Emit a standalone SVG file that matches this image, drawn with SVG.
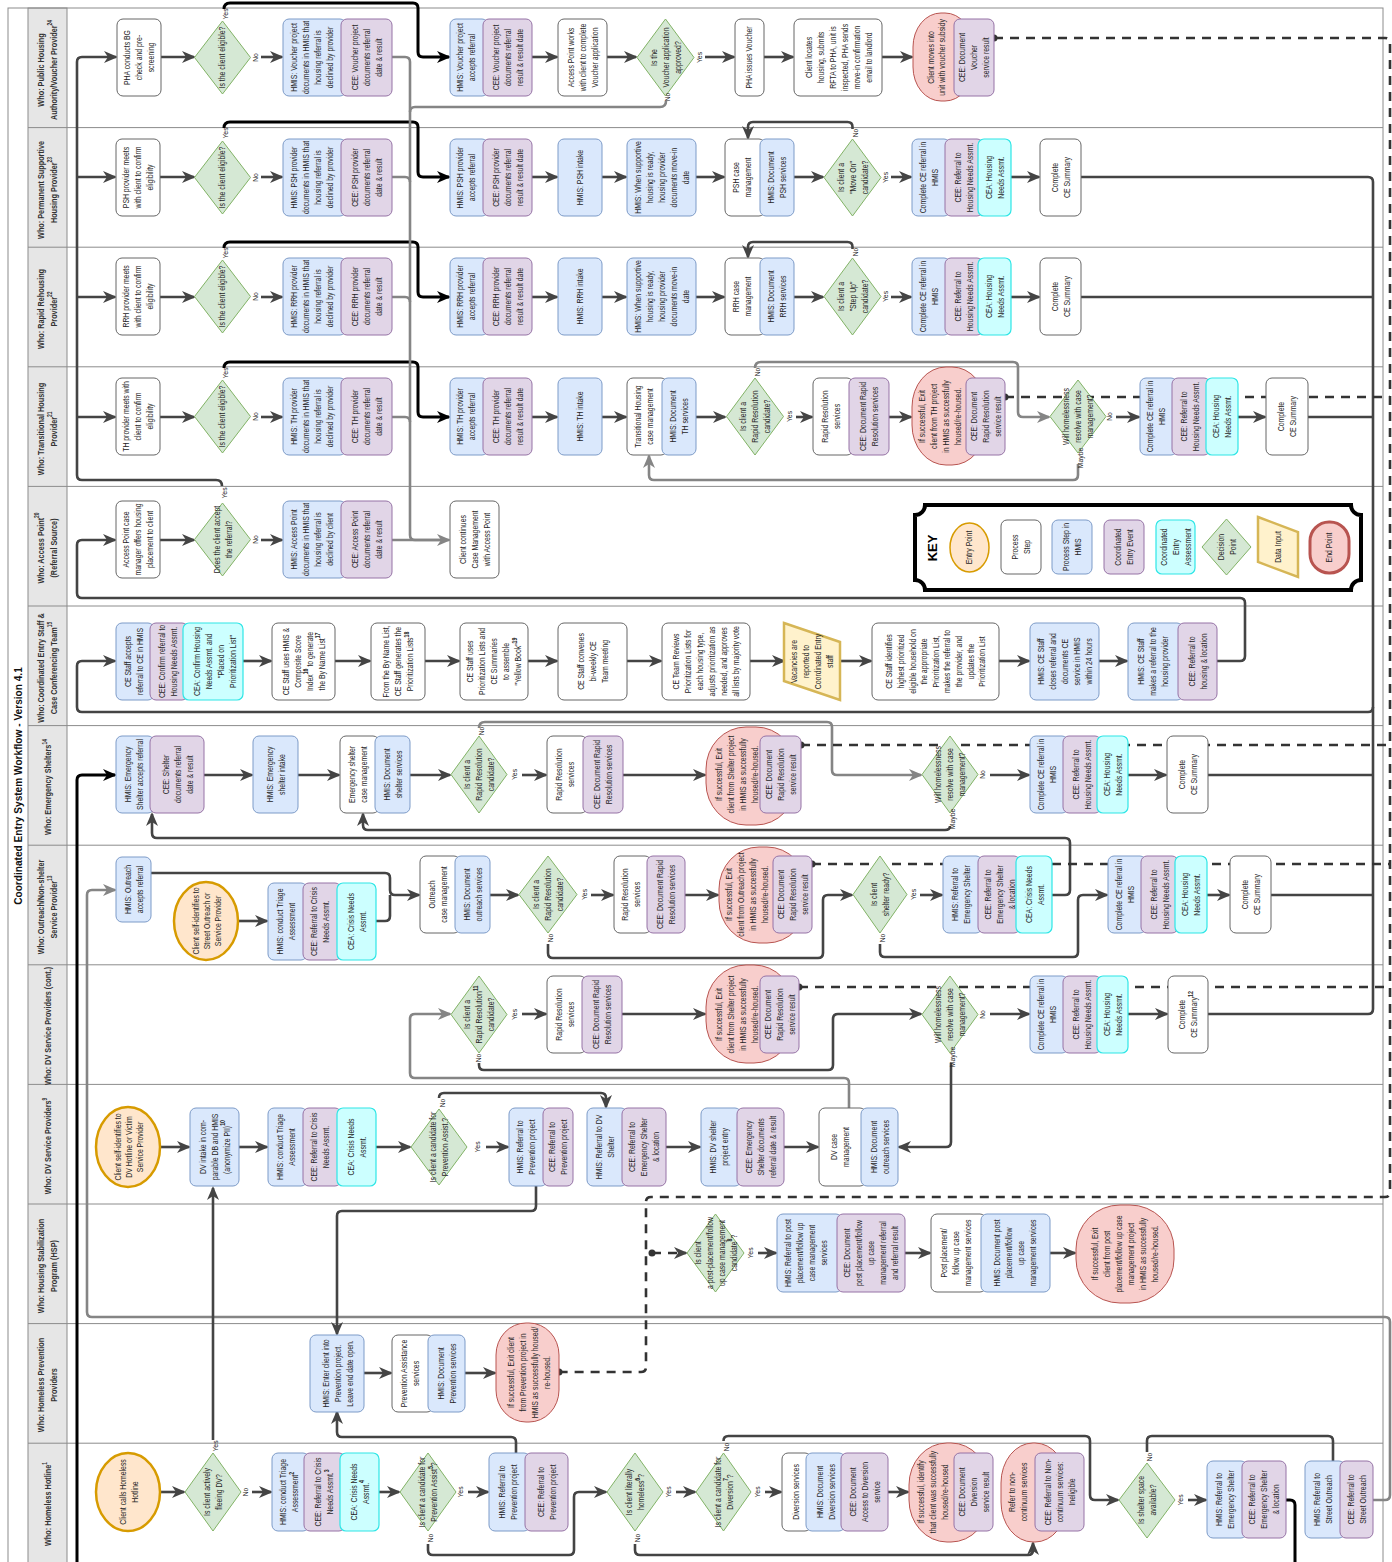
<svg xmlns="http://www.w3.org/2000/svg" width="1392" height="1562" viewBox="0 0 1392 1562">
<defs>
<style>
.hdr{fill:#e6e6e6;stroke:#8c8c8c;stroke-width:1}
.ln{stroke:#8c8c8c;stroke-width:1}
.w{fill:#fff;stroke:#666;stroke-width:1}
.b{fill:#dae8fc;stroke:#7d9bc8;stroke-width:1}
.p{fill:#e1d5e7;stroke:#9673a6;stroke-width:1}
.c{fill:#ccffff;stroke:#2ee6e6;stroke-width:1.2}
.d{fill:#d5e8d4;stroke:#82b366;stroke-width:1}
.e{fill:#ffe6cc;stroke:#d79b00;stroke-width:2.5}
.r{fill:#f8cecc;stroke:#b85450;stroke-width:1}
.y{fill:#fff2cc;stroke:#d6b656;stroke-width:2.5}
text{font-family:"Liberation Sans",Arial,sans-serif;fill:#262626}
.t{font-size:8.6px;text-anchor:middle;dominant-baseline:central}
.l{font-size:8px;text-anchor:middle;dominant-baseline:central}
.h{font-size:9.6px;font-weight:bold;text-anchor:middle;dominant-baseline:central;fill:#333}
.ttl{font-size:11.5px;font-weight:bold;text-anchor:middle;dominant-baseline:central;fill:#111}
.s{font-size:6.5px;font-weight:bold}
.k{fill:none;stroke:#444;stroke-width:2.6}
.g{fill:none;stroke:#858585;stroke-width:2.6}
.bk{fill:none;stroke:#000;stroke-width:3}
.ds{fill:none;stroke:#333;stroke-width:2.6;stroke-dasharray:9 7}
</style>
<marker id="ak" viewBox="0 0 14 12" refX="12" refY="6" markerWidth="14" markerHeight="12" markerUnits="userSpaceOnUse" orient="auto"><path d="M0,0 L14,6 L0,12 L4,6 Z" fill="#444"/></marker>
<marker id="ag" viewBox="0 0 14 12" refX="12" refY="6" markerWidth="14" markerHeight="12" markerUnits="userSpaceOnUse" orient="auto"><path d="M0,0 L14,6 L0,12 L4,6 Z" fill="#858585"/></marker>
<marker id="ab" viewBox="0 0 14 12" refX="12" refY="6" markerWidth="14" markerHeight="12" markerUnits="userSpaceOnUse" orient="auto"><path d="M0,0 L14,6 L0,12 L4,6 Z" fill="#000"/></marker>
<marker id="dot" viewBox="0 0 8 8" refX="4" refY="4" markerWidth="8" markerHeight="8" markerUnits="userSpaceOnUse"><circle cx="4" cy="4" r="3.5" fill="#333"/></marker>
</defs>
<rect width="1392" height="1562" fill="#fff"/>
<g id="lanes">
<rect class="hdr" x="28" y="8" width="39" height="1570"/>
<rect x="8" y="8" width="1375" height="1570" fill="none" stroke="#8c8c8c"/>
<path class="ln" d="M28,127.6H1383M28,247.2H1383M28,366.8H1383M28,486.4H1383M28,606H1383M28,725.6H1383M28,845.2H1383M28,964.8H1383M28,1084.4H1383M28,1204H1383M28,1323.6H1383M28,1443.2H1383"/>
<text class="ttl" transform="translate(18 786) rotate(-90) scale(.88 1)">Coordinated Entry System Workflow - Version 4.1</text>
<text class="h" transform="translate(47 70) rotate(-90) scale(.76 1)"><tspan x="0" dy="-6.5">Who: Public Housing</tspan><tspan x="0" dy="13">Authority/Voucher Provider<tspan class="s" baseline-shift="super">24</tspan></tspan></text>
<text class="h" transform="translate(47 190) rotate(-90) scale(.76 1)"><tspan x="0" dy="-6.5">Who: Permanent Supportive</tspan><tspan x="0" dy="13">Housing Provider<tspan class="s" baseline-shift="super">23</tspan></tspan></text>
<text class="h" transform="translate(47 309) rotate(-90) scale(.76 1)"><tspan x="0" dy="-6.5">Who: Rapid Rehousing</tspan><tspan x="0" dy="13">Provider<tspan class="s" baseline-shift="super">22</tspan></tspan></text>
<text class="h" transform="translate(47 429) rotate(-90) scale(.76 1)"><tspan x="0" dy="-6.5">Who: Transitional Housing</tspan><tspan x="0" dy="13">Provider<tspan class="s" baseline-shift="super">21</tspan></tspan></text>
<text class="h" transform="translate(47 548) rotate(-90) scale(.76 1)"><tspan x="0" dy="-6.5">Who: Access Point<tspan class="s" baseline-shift="super">20</tspan></tspan><tspan x="0" dy="13">(Referral Source)</tspan></text>
<text class="h" transform="translate(47 668) rotate(-90) scale(.76 1)"><tspan x="0" dy="-6.5">Who: Coordinated Entry Staff &amp;</tspan><tspan x="0" dy="13">Case Conferencing Team<tspan class="s" baseline-shift="super">15</tspan></tspan></text>
<text class="h" transform="translate(48 787) rotate(-90) scale(.76 1)">Who: Emergency Shelters<tspan class="s" baseline-shift="super">14</tspan></text>
<text class="h" transform="translate(47 907) rotate(-90) scale(.76 1)"><tspan x="0" dy="-6.5">Who: Outreach/Non-shelter</tspan><tspan x="0" dy="13">Service Provider<tspan class="s" baseline-shift="super">13</tspan></tspan></text>
<text class="h" transform="translate(48 1026) rotate(-90) scale(.76 1)">Who: DV Service Providers (cont.)</text>
<text class="h" transform="translate(48 1146) rotate(-90) scale(.76 1)">Who: DV Service Providers<tspan class="s" baseline-shift="super">9</tspan></text>
<text class="h" transform="translate(47 1266) rotate(-90) scale(.76 1)"><tspan x="0" dy="-6.5">Who: Housing Stabilization</tspan><tspan x="0" dy="13">Program (HSP)</tspan></text>
<text class="h" transform="translate(47 1385) rotate(-90) scale(.76 1)"><tspan x="0" dy="-6.5">Who: Homeless Prevention</tspan><tspan x="0" dy="13">Providers</tspan></text>
<text class="h" transform="translate(48 1504) rotate(-90) scale(.76 1)">Who: Homeless Hotline<tspan class="s" baseline-shift="super">1</tspan></text>
</g>
<g id="connectors">
<path class="k" marker-end="url(#ak)" d="M222,486 Q222,480 216,480 H82 Q77,480 77,475 V62 Q77,57 82,57 H116"/>
<path class="k" marker-end="url(#ak)" d="M77,177 H115"/>
<path class="k" marker-end="url(#ak)" d="M77,297 H115"/>
<path class="k" marker-end="url(#ak)" d="M77,417 H115"/>
<path class="k" marker-end="url(#ak)" d="M1217,661 H1240 Q1245,661 1245,656 V603 Q1245,598 1240,598 H82 Q77,598 77,593 V545 Q77,540 82,540 H115"/>
<path class="k" d="M1373,182 V1009"/>
<path class="k" marker-end="url(#ak)" d="M1373,707 Q1373,712 1368,712 H82 Q77,712 77,707 V666 Q77,661 82,661 H115"/>
<path class="bk" marker-end="url(#ab)" d="M1286,1500 H1290 Q1295,1500 1295,1505 V1580 H77 V780 Q77,775 82,775 H115"/>
<path class="g" marker-end="url(#ag)" d="M1373,1500 H1385 Q1390,1500 1390,1495 V1322 Q1390,1317 1385,1317 H92 Q87,1317 87,1312 V895 Q87,890 92,890 H115"/>
<path class="bk" marker-end="url(#ab)" d="M224,9 Q224,3 230,3 H413 Q418,3 418,8 V52 Q418,57 423,57 H449"/>
<path class="bk" marker-end="url(#ab)" d="M224,128 Q224,122 230,122 H413 Q418,122 418,127 V172 Q418,177 423,177 H449"/>
<path class="bk" marker-end="url(#ab)" d="M224,248 Q224,242 230,242 H413 Q418,242 418,247 V292 Q418,297 423,297 H449"/>
<path class="bk" marker-end="url(#ab)" d="M224,368 Q224,362 230,362 H413 Q418,362 418,367 V412 Q418,417 423,417 H449"/>
<path class="g" marker-end="url(#ag)" d="M392,57 H405 Q410,57 410,62 V535 Q410,540 415,540 H449"/>
<path class="g" d="M392,177 H405 Q410,177 410,182"/>
<path class="g" d="M392,297 H405 Q410,297 410,302"/>
<path class="g" d="M392,417 H405 Q410,417 410,422"/>
<path class="g" d="M392,540 H440"/>
<path class="g" d="M666,101 Q666,107 660,107 H415 Q410,107 410,112"/>
<path class="k" marker-end="url(#ak)" d="M161,57 H194"/>
<path class="k" marker-end="url(#ak)" d="M261,57 H282"/>
<path class="k" marker-end="url(#ak)" d="M532,57 H557"/>
<path class="k" marker-end="url(#ak)" d="M607,57 H636"/>
<path class="k" marker-end="url(#ak)" d="M705,57 H734"/>
<path class="k" marker-end="url(#ak)" d="M764,57 H793"/>
<path class="k" marker-end="url(#ak)" d="M882,57 H912"/>
<path class="k" marker-end="url(#ak)" d="M160,177 H194"/>
<path class="k" marker-end="url(#ak)" d="M261,177 H282"/>
<path class="k" marker-end="url(#ak)" d="M532,177 H557"/>
<path class="k" marker-end="url(#ak)" d="M602,177 H626"/>
<path class="k" marker-end="url(#ak)" d="M696,177 H724"/>
<path class="k" marker-end="url(#ak)" d="M794,177 H823"/>
<path class="k" marker-end="url(#ak)" d="M891,177 H911"/>
<path class="k" marker-end="url(#ak)" d="M1011,177 H1039"/>
<path class="k" marker-end="url(#ak)" d="M852.5,129 V127 Q852.5,122 847.5,122 H753 Q748,122 748,127 V138"/>
<path class="k" d="M1081,177 H1368 Q1373,177 1373,182"/>
<path class="k" marker-end="url(#ak)" d="M160,297 H194"/>
<path class="k" marker-end="url(#ak)" d="M261,297 H282"/>
<path class="k" marker-end="url(#ak)" d="M532,297 H557"/>
<path class="k" marker-end="url(#ak)" d="M602,297 H626"/>
<path class="k" marker-end="url(#ak)" d="M696,297 H724"/>
<path class="k" marker-end="url(#ak)" d="M794,297 H823"/>
<path class="k" marker-end="url(#ak)" d="M891,297 H911"/>
<path class="k" marker-end="url(#ak)" d="M1011,297 H1039"/>
<path class="k" marker-end="url(#ak)" d="M852.5,249 V247 Q852.5,242 847.5,242 H753 Q748,242 748,247 V257"/>
<path class="k" d="M1081,297 H1373"/>
<path class="k" marker-end="url(#ak)" d="M160,417 H194"/>
<path class="k" marker-end="url(#ak)" d="M261,417 H282"/>
<path class="k" marker-end="url(#ak)" d="M532,417 H557"/>
<path class="k" marker-end="url(#ak)" d="M602,417 H626"/>
<path class="k" marker-end="url(#ak)" d="M696,417 H725"/>
<path class="k" marker-end="url(#ak)" d="M796,417 H812"/>
<path class="k" marker-end="url(#ak)" d="M889,417 H911"/>
<path class="k" marker-end="url(#ak)" d="M1116,417 H1139"/>
<path class="k" marker-end="url(#ak)" d="M1238,417 H1265"/>
<path class="k" d="M1308,417 H1373"/>
<path class="g" marker-end="url(#ag)" d="M755,368 Q755,362 761,362 H1013 Q1018,362 1018,367 V412 Q1018,417 1023,417 H1049"/>
<path class="g" marker-end="url(#ag)" d="M1078,464 V475 Q1078,480 1073,480 H654 Q649,480 649,475 V456"/>
<path class="k" marker-end="url(#ak)" d="M160,540 H194"/>
<path class="k" marker-end="url(#ak)" d="M261,540 H282"/>
<path class="k" marker-end="url(#ak)" d="M243,661 H271"/>
<path class="k" marker-end="url(#ak)" d="M335,661 H370"/>
<path class="k" marker-end="url(#ak)" d="M425,661 H459"/>
<path class="k" marker-end="url(#ak)" d="M528,661 H557"/>
<path class="k" marker-end="url(#ak)" d="M627,661 H661"/>
<path class="k" marker-end="url(#ak)" d="M750,661 H784"/>
<path class="k" marker-end="url(#ak)" d="M840,661 H871"/>
<path class="k" marker-end="url(#ak)" d="M999,661 H1029"/>
<path class="k" marker-end="url(#ak)" d="M1099,661 H1127"/>
<path class="k" marker-end="url(#ak)" d="M204,775 H252"/>
<path class="k" marker-end="url(#ak)" d="M298,775 H339"/>
<path class="k" marker-end="url(#ak)" d="M410,775 H450"/>
<path class="k" marker-end="url(#ak)" d="M522,775 H546"/>
<path class="k" marker-end="url(#ak)" d="M623,775 H705"/>
<path class="k" marker-end="url(#ak)" d="M990,775 H1029"/>
<path class="k" marker-end="url(#ak)" d="M1128,775 H1166"/>
<path class="k" d="M1208,775 H1373"/>
<path class="g" marker-end="url(#ag)" d="M479,728 Q479,722 485,722 H827 Q832,722 832,727 V770 Q832,775 837,775 H921"/>
<path class="k" marker-end="url(#ak)" d="M950,826 Q950,830 945,830 H368 Q363,830 363,825 V814"/>
<path class="k" marker-end="url(#ak)" d="M1052,895 H1065 Q1070,895 1070,890 V843 Q1070,838 1065,838 H157 Q152,838 152,833 V814"/>
<path class="k" marker-end="url(#ak)" d="M151,873 H385 Q390,873 390,878 V890 Q390,895 395,895 H419"/>
<path class="k" d="M376,921 H385 Q390,921 390,916 V895"/>
<path class="k" marker-end="url(#ak)" d="M238,921 H267"/>
<path class="k" marker-end="url(#ak)" d="M490,895 H518"/>
<path class="k" marker-end="url(#ak)" d="M591,895 H613"/>
<path class="k" marker-end="url(#ak)" d="M685,895 H718"/>
<path class="k" marker-end="url(#ak)" d="M920,895 H942"/>
<path class="k" marker-end="url(#ak)" d="M1207,895 H1229"/>
<path class="k" d="M1271,895 H1373"/>
<path class="k" marker-end="url(#ak)" d="M548,944 V953 Q548,958 553,958 H818 Q823,958 823,953 V900 Q823,895 828,895 H852"/>
<path class="k" marker-end="url(#ak)" d="M880,944 V952 Q880,957 885,957 H1073 Q1078,957 1078,952 V900 Q1078,895 1083,895 H1107"/>
<path class="k" marker-end="url(#ak)" d="M522,1014 H546"/>
<path class="k" marker-end="url(#ak)" d="M622,1014 H705"/>
<path class="k" marker-end="url(#ak)" d="M990,1014 H1029"/>
<path class="k" marker-end="url(#ak)" d="M1128,1014 H1167"/>
<path class="k" d="M1208,1014 H1368 Q1373,1014 1373,1009"/>
<path class="k" marker-end="url(#ak)" d="M479,1063 V1065 Q479,1070 484,1070 H828 Q833,1070 833,1065 V1019 Q833,1014 838,1014 H921"/>
<path class="g" marker-end="url(#ag)" d="M849,1108 V1083 Q849,1078 844,1078 H415 Q410,1078 410,1073 V1019 Q410,1014 415,1014 H450"/>
<path class="k" marker-end="url(#ak)" d="M951,1063 V1142 Q951,1147 946,1147 H899"/>
<path class="k" marker-end="url(#ak)" d="M160,1147 H189"/>
<path class="k" marker-end="url(#ak)" d="M239,1147 H267"/>
<path class="k" marker-end="url(#ak)" d="M376,1147 H410"/>
<path class="k" marker-end="url(#ak)" d="M486,1147 H508"/>
<path class="k" marker-end="url(#ak)" d="M666,1147 H700"/>
<path class="k" marker-end="url(#ak)" d="M784,1147 H818"/>
<path class="k" marker-end="url(#ak)" d="M439,1098 Q439,1093 444,1093 H601 Q606,1093 606,1098 V1107"/>
<path class="k" marker-end="url(#ak)" d="M536,1186 V1206 Q536,1211 531,1211 H342 Q337,1211 337,1216 V1334"/>
<path class="k" marker-end="url(#ak)" d="M758,1253 H776"/>
<path class="k" marker-end="url(#ak)" d="M905,1253 H930"/>
<path class="k" marker-end="url(#ak)" d="M1050,1253 H1075"/>
<path class="k" marker-end="url(#ak)" d="M364,1373 H391"/>
<path class="k" marker-end="url(#ak)" d="M465,1373 H495"/>
<path class="k" marker-end="url(#ak)" d="M516,1453 V1442 Q516,1437 511,1437 H342 Q337,1437 337,1432 V1412"/>
<path class="k" marker-end="url(#ak)" d="M160,1492 H184"/>
<path class="k" marker-end="url(#ak)" d="M252,1492 H271"/>
<path class="k" marker-end="url(#ak)" d="M379,1492 H399"/>
<path class="k" marker-end="url(#ak)" d="M468,1492 H488"/>
<path class="k" marker-end="url(#ak)" d="M676,1492 H695"/>
<path class="k" marker-end="url(#ak)" d="M765,1492 H781"/>
<path class="k" marker-end="url(#ak)" d="M888,1492 H908"/>
<path class="k" marker-end="url(#ak)" d="M213,1440 V1188"/>
<path class="k" marker-end="url(#ak)" d="M428,1544 V1550 Q428,1555 433,1555 H569 Q574,1555 574,1550 V1497 Q574,1492 579,1492 H606"/>
<path class="k" marker-end="url(#ak)" d="M635,1544 V1550 Q635,1555 640,1555 H1028 Q1033,1555 1033,1550 V1543"/>
<path class="k" marker-end="url(#ak)" d="M723.5,1441 Q723.5,1436 728.5,1436 H1085 Q1090,1436 1090,1441 V1495 Q1090,1500 1095,1500 H1118"/>
<path class="k" marker-end="url(#ak)" d="M1188,1500 H1206"/>
<path class="k" d="M1147,1452 V1441 Q1147,1436 1152,1436 H1328 Q1333,1436 1333,1441 V1461"/>
<path class="ds" marker-start="url(#dot)" d="M994,38 H1385 Q1390,38 1390,43 V1192 Q1390,1197 1385,1197 H651 Q646,1197 646,1202 V1367 Q646,1372 641,1372 H559"/>
<circle cx="559" cy="1372" r="3.5" fill="#333"/>
<path class="ds" marker-start="url(#dot)" d="M1005,397 H1390"/>
<path class="ds" marker-start="url(#dot)" d="M801,745 H1390"/>
<path class="ds" marker-start="url(#dot)" d="M812,864 H1390"/>
<path class="ds" marker-start="url(#dot)" d="M799,987 H1390"/>
<path class="ds" marker-start="url(#dot)" marker-end="url(#ak)" d="M652,1253 H686"/>
</g>
<g id="n-pha-check"><rect class="w" x="117" y="19" width="44" height="77" rx="6"/><text class="t" transform="translate(139 57.5) rotate(-90) scale(.8 1)"><tspan x="0" dy="-12">PHA conducts BG</tspan><tspan x="0" dy="12">check and pre-</tspan><tspan x="0" dy="12">screening</tspan></text></g>
<g id="n-pha-elig"><polygon class="d" points="222.5,21 250.5,57.5 222.5,94 194.5,57.5"/><text class="t" transform="translate(222.5 57.5) rotate(-90) scale(.8 1)">Is the client eligible?</text></g>
<g id="n-pha-decl"><rect class="b" x="283" y="19" width="63" height="77" rx="6"/><rect class="p" x="341" y="19" width="51" height="77" rx="6"/><text class="t" transform="translate(312 57.5) rotate(-90) scale(.8 1)"><tspan x="0" dy="-18">HMIS: Voucher project</tspan><tspan x="0" dy="12">documents in HMIS that</tspan><tspan x="0" dy="12">housing referral is</tspan><tspan x="0" dy="12">declined by provider</tspan></text><text class="t" transform="translate(366.5 57.5) rotate(-90) scale(.8 1)"><tspan x="0" dy="-12">CEE: Voucher project</tspan><tspan x="0" dy="12">documents referral</tspan><tspan x="0" dy="12">date &amp; result</tspan></text></g>
<g id="n-pha-acc"><rect class="b" x="450" y="19" width="38" height="77" rx="6"/><rect class="p" x="483" y="19" width="49" height="77" rx="6"/><text class="t" transform="translate(466 57.5) rotate(-90) scale(.8 1)"><tspan x="0" dy="-6">HMIS: Voucher project</tspan><tspan x="0" dy="12">accepts referral</tspan></text><text class="t" transform="translate(507.5 57.5) rotate(-90) scale(.8 1)"><tspan x="0" dy="-12">CEE: Voucher project</tspan><tspan x="0" dy="12">documents referral</tspan><tspan x="0" dy="12">result &amp; result date</tspan></text></g>
<g id="n-pha-app"><rect class="w" x="558" y="19" width="49" height="77" rx="6"/><text class="t" transform="translate(582.5 57.5) rotate(-90) scale(.8 1)"><tspan x="0" dy="-12">Access Point works</tspan><tspan x="0" dy="12">with client to complete</tspan><tspan x="0" dy="12">Voucher application</tspan></text></g>
<g id="n-pha-appr"><polygon class="d" points="665.5,19 694,57.5 665.5,96 637,57.5"/><text class="t" transform="translate(666 57.5) rotate(-90) scale(.8 1)"><tspan x="0" dy="-12">Is the</tspan><tspan x="0" dy="12">Voucher application</tspan><tspan x="0" dy="12">approved?</tspan></text></g>
<g id="n-pha-issue"><rect class="w" x="735" y="19" width="29" height="77" rx="6"/><text class="t" transform="translate(749.5 57.5) rotate(-90) scale(.8 1)">PHA issues Voucher</text></g>
<g id="n-pha-locate"><rect class="w" x="794" y="19" width="88" height="77" rx="6"/><text class="t" transform="translate(839 57.5) rotate(-90) scale(.8 1)"><tspan x="0" dy="-30">Client locates</tspan><tspan x="0" dy="12">housing, submits</tspan><tspan x="0" dy="12">RFTA to PHA, unit is</tspan><tspan x="0" dy="12">inspected, PHA sends</tspan><tspan x="0" dy="12">move-in confirmation</tspan><tspan x="0" dy="12">email to landlord</tspan></text></g>
<g id="n-pha-end"><rect class="r" x="913" y="13" width="60" height="88" rx="28" ry="34"/><rect class="p" x="954" y="19" width="40" height="77" rx="6"/><text class="t" transform="translate(937 57.5) rotate(-90) scale(.8 1)"><tspan x="0" dy="-6">Client moves into</tspan><tspan x="0" dy="11">unit with voucher subsidy</tspan></text><text class="t" transform="translate(974 57.5) rotate(-90) scale(.8 1)"><tspan x="0" dy="-12">CEE: Document</tspan><tspan x="0" dy="12">Voucher</tspan><tspan x="0" dy="12">service result</tspan></text></g>
<g id="n-psh-meet"><rect class="w" x="116" y="139" width="44" height="77" rx="6"/><text class="t" transform="translate(138 177.5) rotate(-90) scale(.8 1)"><tspan x="0" dy="-12">PSH provider meets</tspan><tspan x="0" dy="12">with client to confirm</tspan><tspan x="0" dy="12">eligibility</tspan></text></g>
<g id="n-psh-elig"><polygon class="d" points="222.5,141 250.5,177.5 222.5,214 194.5,177.5"/><text class="t" transform="translate(222.5 177.5) rotate(-90) scale(.8 1)">Is the client eligible?</text></g>
<g id="n-psh-decl"><rect class="b" x="283" y="139" width="63" height="77" rx="6"/><rect class="p" x="341" y="139" width="51" height="77" rx="6"/><text class="t" transform="translate(312 177.5) rotate(-90) scale(.8 1)"><tspan x="0" dy="-18">HMIS: PSH provider</tspan><tspan x="0" dy="12">documents in HMIS that</tspan><tspan x="0" dy="12">housing referral is</tspan><tspan x="0" dy="12">declined by provider</tspan></text><text class="t" transform="translate(366.5 177.5) rotate(-90) scale(.8 1)"><tspan x="0" dy="-12">CEE: PSH provider</tspan><tspan x="0" dy="12">documents referral</tspan><tspan x="0" dy="12">date &amp; result</tspan></text></g>
<g id="n-psh-acc"><rect class="b" x="450" y="139" width="38" height="77" rx="6"/><rect class="p" x="483" y="139" width="49" height="77" rx="6"/><text class="t" transform="translate(466 177.5) rotate(-90) scale(.8 1)"><tspan x="0" dy="-6">HMIS: PSH provider</tspan><tspan x="0" dy="12">accepts referral</tspan></text><text class="t" transform="translate(507.5 177.5) rotate(-90) scale(.8 1)"><tspan x="0" dy="-12">CEE: PSH provider</tspan><tspan x="0" dy="12">documents referral</tspan><tspan x="0" dy="12">result &amp; result date</tspan></text></g>
<g id="n-psh-intake"><rect class="b" x="558" y="139" width="44" height="77" rx="6"/><text class="t" transform="translate(580 177.5) rotate(-90) scale(.8 1)">HMIS: PSH intake</text></g>
<g id="n-psh-movein"><rect class="b" x="627" y="139" width="69" height="77" rx="6"/><text class="t" transform="translate(661.5 177.5) rotate(-90) scale(.8 1)"><tspan x="0" dy="-24">HMIS: When supportive</tspan><tspan x="0" dy="12">housing is ready,</tspan><tspan x="0" dy="12">housing provider</tspan><tspan x="0" dy="12">documents move-in</tspan><tspan x="0" dy="12">date</tspan></text></g>
<g id="n-psh-cm"><rect class="w" x="725" y="139" width="40" height="77" rx="6"/><rect class="b" x="760" y="139" width="34" height="77" rx="6"/><text class="t" transform="translate(742 177.5) rotate(-90) scale(.8 1)"><tspan x="0" dy="-6">PSH case</tspan><tspan x="0" dy="12">management</tspan></text><text class="t" transform="translate(777 177.5) rotate(-90) scale(.8 1)"><tspan x="0" dy="-6">HMIS: Document</tspan><tspan x="0" dy="12">PSH services</tspan></text></g>
<g id="n-psh-moveon"><polygon class="d" points="852.5,139 881,177.5 852.5,216 824,177.5"/><text class="t" transform="translate(852.5 177.5) rotate(-90) scale(.8 1)"><tspan x="0" dy="-12">Is client a</tspan><tspan x="0" dy="12">"Move On"</tspan><tspan x="0" dy="12">candidate?</tspan></text></g>
<g id="n-psh-ce"><rect class="b" x="912" y="139" width="38" height="77" rx="6"/><rect class="p" x="945" y="139" width="38" height="77" rx="6"/><rect class="c" x="978" y="139" width="33" height="77" rx="6"/><text class="t" transform="translate(928.5 177.5) rotate(-90) scale(.8 1)"><tspan x="0" dy="-6">Complete CE referral in</tspan><tspan x="0" dy="12">HMIS</tspan></text><text class="t" transform="translate(963.5 177.5) rotate(-90) scale(.8 1)"><tspan x="0" dy="-6">CEE: Referral to</tspan><tspan x="0" dy="12">Housing Needs Assmt.</tspan></text><text class="t" transform="translate(994.5 177.5) rotate(-90) scale(.8 1)"><tspan x="0" dy="-6">CEA: Housing</tspan><tspan x="0" dy="12">Needs Assmt.</tspan></text></g>
<g id="n-psh-sum"><rect class="w" x="1040" y="139" width="41" height="77" rx="6"/><text class="t" transform="translate(1060.5 177.5) rotate(-90) scale(.8 1)"><tspan x="0" dy="-6">Complete</tspan><tspan x="0" dy="12">CE Summary</tspan></text></g>
<g id="n-rrh-meet"><rect class="w" x="116" y="258" width="44" height="77" rx="6"/><text class="t" transform="translate(138 296.5) rotate(-90) scale(.8 1)"><tspan x="0" dy="-12">RRH provider meets</tspan><tspan x="0" dy="12">with client to confirm</tspan><tspan x="0" dy="12">eligibility</tspan></text></g>
<g id="n-rrh-elig"><polygon class="d" points="222.5,260 250.5,296.5 222.5,333 194.5,296.5"/><text class="t" transform="translate(222.5 296.5) rotate(-90) scale(.8 1)">Is the client eligible?</text></g>
<g id="n-rrh-decl"><rect class="b" x="283" y="258" width="63" height="77" rx="6"/><rect class="p" x="341" y="258" width="51" height="77" rx="6"/><text class="t" transform="translate(312 296.5) rotate(-90) scale(.8 1)"><tspan x="0" dy="-18">HMIS: RRH provider</tspan><tspan x="0" dy="12">documents in HMIS that</tspan><tspan x="0" dy="12">housing referral is</tspan><tspan x="0" dy="12">declined by provider</tspan></text><text class="t" transform="translate(366.5 296.5) rotate(-90) scale(.8 1)"><tspan x="0" dy="-12">CEE: RRH provider</tspan><tspan x="0" dy="12">documents referral</tspan><tspan x="0" dy="12">date &amp; result</tspan></text></g>
<g id="n-rrh-acc"><rect class="b" x="450" y="258" width="38" height="77" rx="6"/><rect class="p" x="483" y="258" width="49" height="77" rx="6"/><text class="t" transform="translate(466 296.5) rotate(-90) scale(.8 1)"><tspan x="0" dy="-6">HMIS: RRH provider</tspan><tspan x="0" dy="12">accepts referral</tspan></text><text class="t" transform="translate(507.5 296.5) rotate(-90) scale(.8 1)"><tspan x="0" dy="-12">CEE: RRH provider</tspan><tspan x="0" dy="12">documents referral</tspan><tspan x="0" dy="12">result &amp; result date</tspan></text></g>
<g id="n-rrh-intake"><rect class="b" x="558" y="258" width="44" height="77" rx="6"/><text class="t" transform="translate(580 296.5) rotate(-90) scale(.8 1)">HMIS: RRH intake</text></g>
<g id="n-rrh-movein"><rect class="b" x="627" y="258" width="69" height="77" rx="6"/><text class="t" transform="translate(661.5 296.5) rotate(-90) scale(.8 1)"><tspan x="0" dy="-24">HMIS: When supportive</tspan><tspan x="0" dy="12">housing is ready,</tspan><tspan x="0" dy="12">housing provider</tspan><tspan x="0" dy="12">documents move-in</tspan><tspan x="0" dy="12">date</tspan></text></g>
<g id="n-rrh-cm"><rect class="w" x="725" y="258" width="40" height="77" rx="6"/><rect class="b" x="760" y="258" width="34" height="77" rx="6"/><text class="t" transform="translate(742 296.5) rotate(-90) scale(.8 1)"><tspan x="0" dy="-6">RRH case</tspan><tspan x="0" dy="12">management</tspan></text><text class="t" transform="translate(777 296.5) rotate(-90) scale(.8 1)"><tspan x="0" dy="-6">HMIS: Document</tspan><tspan x="0" dy="12">RRH services</tspan></text></g>
<g id="n-rrh-stepup"><polygon class="d" points="852.5,258 881,296.5 852.5,335 824,296.5"/><text class="t" transform="translate(852.5 296.5) rotate(-90) scale(.8 1)"><tspan x="0" dy="-12">Is client a</tspan><tspan x="0" dy="12">"Step Up"</tspan><tspan x="0" dy="12">candidate?</tspan></text></g>
<g id="n-rrh-ce"><rect class="b" x="912" y="258" width="38" height="77" rx="6"/><rect class="p" x="945" y="258" width="38" height="77" rx="6"/><rect class="c" x="978" y="258" width="33" height="77" rx="6"/><text class="t" transform="translate(928.5 296.5) rotate(-90) scale(.8 1)"><tspan x="0" dy="-6">Complete CE referral in</tspan><tspan x="0" dy="12">HMIS</tspan></text><text class="t" transform="translate(963.5 296.5) rotate(-90) scale(.8 1)"><tspan x="0" dy="-6">CEE: Referral to</tspan><tspan x="0" dy="12">Housing Needs Assmt.</tspan></text><text class="t" transform="translate(994.5 296.5) rotate(-90) scale(.8 1)"><tspan x="0" dy="-6">CEA: Housing</tspan><tspan x="0" dy="12">Needs Assmt.</tspan></text></g>
<g id="n-rrh-sum"><rect class="w" x="1040" y="258" width="41" height="77" rx="6"/><text class="t" transform="translate(1060.5 296.5) rotate(-90) scale(.8 1)"><tspan x="0" dy="-6">Complete</tspan><tspan x="0" dy="12">CE Summary</tspan></text></g>
<g id="n-th-meet"><rect class="w" x="116" y="378" width="44" height="77" rx="6"/><text class="t" transform="translate(138 416.5) rotate(-90) scale(.8 1)"><tspan x="0" dy="-12">TH provider meets with</tspan><tspan x="0" dy="12">client to confirm</tspan><tspan x="0" dy="12">eligibility</tspan></text></g>
<g id="n-th-elig"><polygon class="d" points="222.5,380 250.5,416.5 222.5,453 194.5,416.5"/><text class="t" transform="translate(222.5 416.5) rotate(-90) scale(.8 1)">Is the client eligible?</text></g>
<g id="n-th-decl"><rect class="b" x="283" y="378" width="63" height="77" rx="6"/><rect class="p" x="341" y="378" width="51" height="77" rx="6"/><text class="t" transform="translate(312 416.5) rotate(-90) scale(.8 1)"><tspan x="0" dy="-18">HMIS: TH provider</tspan><tspan x="0" dy="12">documents in HMIS that</tspan><tspan x="0" dy="12">housing referral is</tspan><tspan x="0" dy="12">declined by provider</tspan></text><text class="t" transform="translate(366.5 416.5) rotate(-90) scale(.8 1)"><tspan x="0" dy="-12">CEE: TH provider</tspan><tspan x="0" dy="12">documents referral</tspan><tspan x="0" dy="12">date &amp; result</tspan></text></g>
<g id="n-th-acc"><rect class="b" x="450" y="378" width="38" height="77" rx="6"/><rect class="p" x="483" y="378" width="49" height="77" rx="6"/><text class="t" transform="translate(466 416.5) rotate(-90) scale(.8 1)"><tspan x="0" dy="-6">HMIS: TH provider</tspan><tspan x="0" dy="12">accepts referral</tspan></text><text class="t" transform="translate(507.5 416.5) rotate(-90) scale(.8 1)"><tspan x="0" dy="-12">CEE: TH provider</tspan><tspan x="0" dy="12">documents referral</tspan><tspan x="0" dy="12">result &amp; result date</tspan></text></g>
<g id="n-th-intake"><rect class="b" x="558" y="378" width="44" height="77" rx="6"/><text class="t" transform="translate(580 416.5) rotate(-90) scale(.8 1)">HMIS: TH intake</text></g>
<g id="n-th-cm"><rect class="w" x="627" y="378" width="40" height="77" rx="6"/><rect class="b" x="662" y="378" width="34" height="77" rx="6"/><text class="t" transform="translate(644 416.5) rotate(-90) scale(.8 1)"><tspan x="0" dy="-6">Transitional Housing</tspan><tspan x="0" dy="12">case management</tspan></text><text class="t" transform="translate(679 416.5) rotate(-90) scale(.8 1)"><tspan x="0" dy="-6">HMIS: Document</tspan><tspan x="0" dy="12">TH services</tspan></text></g>
<g id="n-th-rrq"><polygon class="d" points="755,378 783.5,416.5 755,455 726.5,416.5"/><text class="t" transform="translate(755 416.5) rotate(-90) scale(.8 1)"><tspan x="0" dy="-12">Is client a</tspan><tspan x="0" dy="12">Rapid Resolution</tspan><tspan x="0" dy="12">candidate?</tspan></text></g>
<g id="n-th-rr"><rect class="w" x="813" y="378" width="40" height="77" rx="6"/><rect class="p" x="849" y="378" width="40" height="77" rx="6"/><text class="t" transform="translate(831 416.5) rotate(-90) scale(.8 1)"><tspan x="0" dy="-6">Rapid Resolution</tspan><tspan x="0" dy="12">services</tspan></text><text class="t" transform="translate(869 416.5) rotate(-90) scale(.8 1)"><tspan x="0" dy="-6">CEE: Document Rapid</tspan><tspan x="0" dy="12">Resolution services</tspan></text></g>
<g id="n-th-end"><rect class="r" x="912" y="367" width="74" height="98" rx="34" ry="40"/><rect class="p" x="966" y="378" width="39" height="77" rx="6"/><text class="t" transform="translate(940 416.5) rotate(-90) scale(.8 1)"><tspan x="0" dy="-18">If successful, Exit</tspan><tspan x="0" dy="12">client from TH project</tspan><tspan x="0" dy="12">in HMIS as successfully</tspan><tspan x="0" dy="12">housed/re-housed.</tspan></text><text class="t" transform="translate(985.5 416.5) rotate(-90) scale(.8 1)"><tspan x="0" dy="-12">CEE: Document</tspan><tspan x="0" dy="12">Rapid Resolution</tspan><tspan x="0" dy="12">service result</tspan></text></g>
<g id="n-th-will"><polygon class="d" points="1078,380 1106,416.5 1078,453 1050,416.5"/><text class="t" transform="translate(1078 416.5) rotate(-90) scale(.8 1)"><tspan x="0" dy="-12">Will homelessness</tspan><tspan x="0" dy="12">resolve with case</tspan><tspan x="0" dy="12">management?</tspan></text></g>
<g id="n-th-ce"><rect class="b" x="1140" y="378" width="37" height="77" rx="6"/><rect class="p" x="1172" y="378" width="38" height="77" rx="6"/><rect class="c" x="1206" y="378" width="32" height="77" rx="6"/><text class="t" transform="translate(1156 416.5) rotate(-90) scale(.8 1)"><tspan x="0" dy="-6">Complete CE referral in</tspan><tspan x="0" dy="12">HMIS</tspan></text><text class="t" transform="translate(1190 416.5) rotate(-90) scale(.8 1)"><tspan x="0" dy="-6">CEE: Referral to</tspan><tspan x="0" dy="12">Housing Needs Assmt.</tspan></text><text class="t" transform="translate(1222 416.5) rotate(-90) scale(.8 1)"><tspan x="0" dy="-6">CEA: Housing</tspan><tspan x="0" dy="12">Needs Assmt.</tspan></text></g>
<g id="n-th-sum"><rect class="w" x="1266" y="378" width="42" height="77" rx="6"/><text class="t" transform="translate(1287 416.5) rotate(-90) scale(.8 1)"><tspan x="0" dy="-6">Complete</tspan><tspan x="0" dy="12">CE Summary</tspan></text></g>
<g id="n-ap-offer"><rect class="w" x="116" y="501" width="44" height="77" rx="6"/><text class="t" transform="translate(138 539.5) rotate(-90) scale(.8 1)"><tspan x="0" dy="-12">Access Point case</tspan><tspan x="0" dy="12">manager offers housing</tspan><tspan x="0" dy="12">placement to client</tspan></text></g>
<g id="n-ap-accept"><polygon class="d" points="222.5,503 250.5,539.5 222.5,576 194.5,539.5"/><text class="t" transform="translate(222.5 539.5) rotate(-90) scale(.8 1)"><tspan x="0" dy="-6">Does the client accept</tspan><tspan x="0" dy="12">the referral?</tspan></text></g>
<g id="n-ap-decl"><rect class="b" x="283" y="501" width="63" height="77" rx="6"/><rect class="p" x="341" y="501" width="51" height="77" rx="6"/><text class="t" transform="translate(312 539.5) rotate(-90) scale(.8 1)"><tspan x="0" dy="-18">HMIS: Access Point</tspan><tspan x="0" dy="12">documents in HMIS that</tspan><tspan x="0" dy="12">housing referral is</tspan><tspan x="0" dy="12">declined by client</tspan></text><text class="t" transform="translate(366.5 539.5) rotate(-90) scale(.8 1)"><tspan x="0" dy="-12">CEE: Access Point</tspan><tspan x="0" dy="12">documents referral</tspan><tspan x="0" dy="12">date &amp; result</tspan></text></g>
<g id="n-ap-cont"><rect class="w" x="450" y="501" width="49" height="77" rx="6"/><text class="t" transform="translate(474.5 539.5) rotate(-90) scale(.8 1)"><tspan x="0" dy="-12">Client continues</tspan><tspan x="0" dy="12">Case Management</tspan><tspan x="0" dy="12">with Access Point</tspan></text></g>
<g id="key">
<path d="M925,505 H1351 A10,10 0 0,0 1361,515 V580 A10,10 0 0,0 1351,590 H925 A10,10 0 0,0 915,580 V515 A10,10 0 0,0 925,505 Z" fill="#fff" stroke="#000" stroke-width="4"/>
<text transform="translate(932 548) rotate(-90)" style="font-size:13px;font-weight:bold;text-anchor:middle;dominant-baseline:central;fill:#000">KEY</text>
<ellipse class="e" cx="969.5" cy="547.5" rx="19.5" ry="24.5" style="stroke-width:1.5"/><text class="t" transform="translate(969.5 547.5) rotate(-90) scale(.8 1)">Entry Point</text>
<rect class="w" x="1001" y="520" width="40" height="54" rx="6"/><text class="t" transform="translate(1021 547) rotate(-90) scale(.8 1)"><tspan x="0" dy="-6">Process</tspan><tspan x="0" dy="12">Step</tspan></text>
<rect class="b" x="1052" y="520" width="40" height="54" rx="6"/><text class="t" transform="translate(1072 547) rotate(-90) scale(.8 1)"><tspan x="0" dy="-6">Process Step in</tspan><tspan x="0" dy="12">HMIS</tspan></text>
<rect class="p" x="1104" y="520" width="40" height="54" rx="6"/><text class="t" transform="translate(1124 547) rotate(-90) scale(.8 1)"><tspan x="0" dy="-6">Coordinated</tspan><tspan x="0" dy="12">Entry Event</tspan></text>
<rect class="c" x="1156" y="520" width="39" height="54" rx="6"/><text class="t" transform="translate(1175.5 547) rotate(-90) scale(.8 1)"><tspan x="0" dy="-12">Coordinated</tspan><tspan x="0" dy="12">Entry</tspan><tspan x="0" dy="12">Assessment</tspan></text>
<polygon class="d" points="1226.5,519 1251,547 1226.5,575 1202,547"/><text class="t" transform="translate(1226.5 547) rotate(-90) scale(.8 1)"><tspan x="0" dy="-6">Decision</tspan><tspan x="0" dy="12">Point</tspan></text>
<polygon class="y" points="1258,517 1298,532 1298,577 1258,562"/><text class="t" transform="translate(1278 547) rotate(-90) scale(.8 1)">Data Input</text>
<rect x="1310" y="522" width="39" height="51" rx="19" fill="#f8cecc" stroke="#b85450" stroke-width="3"/><text class="t" transform="translate(1329.5 547.5) rotate(-90) scale(.8 1)">End Point</text>
</g>
<g id="n-ce-accept"><rect class="b" x="116" y="623" width="38" height="77" rx="6"/><rect class="p" x="150" y="623" width="38" height="77" rx="6"/><rect class="c" x="183" y="623" width="60" height="77" rx="6"/><text class="t" transform="translate(134 661.5) rotate(-90) scale(.8 1)"><tspan x="0" dy="-6">CE Staff accepts</tspan><tspan x="0" dy="12">referral to CE in HMIS</tspan></text><text class="t" transform="translate(168 661.5) rotate(-90) scale(.8 1)"><tspan x="0" dy="-6">CEE: Confirm referral to</tspan><tspan x="0" dy="12">Housing Needs Assmt.</tspan></text><text class="t" transform="translate(215 661.5) rotate(-90) scale(.8 1)"><tspan x="0" dy="-18">CEA: Confirm Housing</tspan><tspan x="0" dy="12">Needs Assmt. and</tspan><tspan x="0" dy="12">"Placed on</tspan><tspan x="0" dy="12">Prioritization List"</tspan></text></g>
<g id="n-ce-bnl"><rect class="w" x="272" y="623" width="63" height="77" rx="6"/><text class="t" transform="translate(303.5 661.5) rotate(-90) scale(.8 1)"><tspan x="0" dy="-18">CE Staff uses HMIS &amp;</tspan><tspan x="0" dy="12">Composite Score</tspan><tspan x="0" dy="12">Index<tspan class="s" baseline-shift="super">16</tspan> to generate</tspan><tspan x="0" dy="12">the By Name List<tspan class="s" baseline-shift="super">17</tspan></tspan></text></g>
<g id="n-ce-plists"><rect class="w" x="371" y="623" width="54" height="77" rx="6"/><text class="t" transform="translate(398 661.5) rotate(-90) scale(.8 1)"><tspan x="0" dy="-12">From the By Name List,</tspan><tspan x="0" dy="12">CE Staff generates the</tspan><tspan x="0" dy="12">Prioritization Lists<tspan class="s" baseline-shift="super">18</tspan></tspan></text></g>
<g id="n-ce-yb"><rect class="w" x="460" y="623" width="68" height="77" rx="6"/><text class="t" transform="translate(494 661.5) rotate(-90) scale(.8 1)"><tspan x="0" dy="-24">CE Staff uses</tspan><tspan x="0" dy="12">Prioritization Lists and</tspan><tspan x="0" dy="12">CE Summaries</tspan><tspan x="0" dy="12">to assemble</tspan><tspan x="0" dy="12">"Yellow Book"<tspan class="s" baseline-shift="super">19</tspan></tspan></text></g>
<g id="n-ce-meet"><rect class="w" x="558" y="623" width="69" height="77" rx="6"/><text class="t" transform="translate(592.5 661.5) rotate(-90) scale(.8 1)"><tspan x="0" dy="-12">CE Staff convenes</tspan><tspan x="0" dy="12">bi-weekly CE</tspan><tspan x="0" dy="12">Team meeting</tspan></text></g>
<g id="n-ce-review"><rect class="w" x="662" y="623" width="88" height="77" rx="6"/><text class="t" transform="translate(706 661.5) rotate(-90) scale(.8 1)"><tspan x="0" dy="-30">CE Team Reviews</tspan><tspan x="0" dy="12">Prioritization Lists for</tspan><tspan x="0" dy="12">each housing type,</tspan><tspan x="0" dy="12">adjusts prioritization as</tspan><tspan x="0" dy="12">needed, and approves</tspan><tspan x="0" dy="12">all lists by majority vote</tspan></text></g>
<g id="n-ce-vac"><polygon class="y" points="784,623 840,642 840,700 784,681"/><text class="t" transform="translate(812 661.5) rotate(-90) scale(.8 1)"><tspan x="0" dy="-18">Vacancies are</tspan><tspan x="0" dy="12">reported to</tspan><tspan x="0" dy="12">Coordinated Entry</tspan><tspan x="0" dy="12">staff</tspan></text></g>
<g id="n-ce-identify"><rect class="w" x="872" y="623" width="127" height="77" rx="6"/><text class="t" transform="translate(935.5 661.5) rotate(-90) scale(.8 1)"><tspan x="0" dy="-46.4">CE Staff identifies</tspan><tspan x="0" dy="11.6">highest prioritized</tspan><tspan x="0" dy="11.6">eligible household on</tspan><tspan x="0" dy="11.6">the appropriate</tspan><tspan x="0" dy="11.6">Prioritization List,</tspan><tspan x="0" dy="11.6">makes the referral to</tspan><tspan x="0" dy="11.6">the provider, and</tspan><tspan x="0" dy="11.6">updates the</tspan><tspan x="0" dy="11.6">Prioritization List</tspan></text></g>
<g id="n-ce-close"><rect class="b" x="1030" y="623" width="69" height="77" rx="6"/><text class="t" transform="translate(1064.5 661.5) rotate(-90) scale(.8 1)"><tspan x="0" dy="-24">HMIS: CE Staff</tspan><tspan x="0" dy="12">closes referral and</tspan><tspan x="0" dy="12">documents CE</tspan><tspan x="0" dy="12">service in HMIS</tspan><tspan x="0" dy="12">within 24 hours</tspan></text></g>
<g id="n-ce-ref"><rect class="b" x="1128" y="623" width="55" height="77" rx="6"/><rect class="p" x="1178" y="623" width="39" height="77" rx="6"/><text class="t" transform="translate(1153 661.5) rotate(-90) scale(.8 1)"><tspan x="0" dy="-12">HMIS: CE Staff</tspan><tspan x="0" dy="12">makes a referral to the</tspan><tspan x="0" dy="12">housing provider</tspan></text><text class="t" transform="translate(1197.5 661.5) rotate(-90) scale(.8 1)"><tspan x="0" dy="-6">CEE: Referral to</tspan><tspan x="0" dy="12">housing &amp; location</tspan></text></g>
<g id="n-es-acc"><rect class="b" x="116" y="736" width="38" height="77" rx="6"/><rect class="p" x="150" y="736" width="54" height="77" rx="6"/><text class="t" transform="translate(134 774.5) rotate(-90) scale(.8 1)"><tspan x="0" dy="-6">HMIS: Emergency</tspan><tspan x="0" dy="12">Shelter accepts referral</tspan></text><text class="t" transform="translate(178 774.5) rotate(-90) scale(.8 1)"><tspan x="0" dy="-12">CEE: Shelter</tspan><tspan x="0" dy="12">documents referral</tspan><tspan x="0" dy="12">date &amp; result</tspan></text></g>
<g id="n-es-intake"><rect class="b" x="253" y="736" width="45" height="77" rx="6"/><text class="t" transform="translate(275.5 774.5) rotate(-90) scale(.8 1)"><tspan x="0" dy="-6">HMIS: Emergency</tspan><tspan x="0" dy="12">shelter intake</tspan></text></g>
<g id="n-es-cm"><rect class="w" x="340" y="736" width="39" height="77" rx="6"/><rect class="b" x="375" y="736" width="35" height="77" rx="6"/><text class="t" transform="translate(358 774.5) rotate(-90) scale(.8 1)"><tspan x="0" dy="-6">Emergency shelter</tspan><tspan x="0" dy="12">case management</tspan></text><text class="t" transform="translate(392.5 774.5) rotate(-90) scale(.8 1)"><tspan x="0" dy="-6">HMIS: Document</tspan><tspan x="0" dy="12">shelter services</tspan></text></g>
<g id="n-es-rrq"><polygon class="d" points="479,736 507,774.5 479,813 451,774.5"/><text class="t" transform="translate(479 774.5) rotate(-90) scale(.8 1)"><tspan x="0" dy="-12">Is client a</tspan><tspan x="0" dy="12">Rapid Resolution</tspan><tspan x="0" dy="12">candidate?</tspan></text></g>
<g id="n-es-rr"><rect class="w" x="547" y="736" width="40" height="77" rx="6"/><rect class="p" x="583" y="736" width="40" height="77" rx="6"/><text class="t" transform="translate(565 774.5) rotate(-90) scale(.8 1)"><tspan x="0" dy="-6">Rapid Resolution</tspan><tspan x="0" dy="12">services</tspan></text><text class="t" transform="translate(603 774.5) rotate(-90) scale(.8 1)"><tspan x="0" dy="-6">CEE: Document Rapid</tspan><tspan x="0" dy="12">Resolution services</tspan></text></g>
<g id="n-es-end"><rect class="r" x="706" y="727" width="90" height="98" rx="40" ry="42"/><rect class="p" x="760" y="736" width="41" height="77" rx="6"/><text class="t" transform="translate(737 774.5) rotate(-90) scale(.8 1)"><tspan x="0" dy="-18">If successful, Exit</tspan><tspan x="0" dy="12">client from Shelter project</tspan><tspan x="0" dy="12">in HMIS as successfully</tspan><tspan x="0" dy="12">housed/re-housed.</tspan></text><text class="t" transform="translate(780.5 774.5) rotate(-90) scale(.8 1)"><tspan x="0" dy="-12">CEE: Document</tspan><tspan x="0" dy="12">Rapid Resolution</tspan><tspan x="0" dy="12">service result</tspan></text></g>
<g id="n-es-will"><polygon class="d" points="950,736 978,774.5 950,813 922,774.5"/><text class="t" transform="translate(950 774.5) rotate(-90) scale(.8 1)"><tspan x="0" dy="-12">Will homelessness</tspan><tspan x="0" dy="12">resolve with case</tspan><tspan x="0" dy="12">management?</tspan></text></g>
<g id="n-es-ce"><rect class="b" x="1030" y="736" width="38" height="77" rx="6"/><rect class="p" x="1063" y="736" width="38" height="77" rx="6"/><rect class="c" x="1097" y="736" width="31" height="77" rx="6"/><text class="t" transform="translate(1047 774.5) rotate(-90) scale(.8 1)"><tspan x="0" dy="-6">Complete CE referral in</tspan><tspan x="0" dy="12">HMIS</tspan></text><text class="t" transform="translate(1081.5 774.5) rotate(-90) scale(.8 1)"><tspan x="0" dy="-6">CEE: Referral to</tspan><tspan x="0" dy="12">Housing Needs Assmt.</tspan></text><text class="t" transform="translate(1112.5 774.5) rotate(-90) scale(.8 1)"><tspan x="0" dy="-6">CEA: Housing</tspan><tspan x="0" dy="12">Needs Assmt.</tspan></text></g>
<g id="n-es-sum"><rect class="w" x="1167" y="736" width="41" height="77" rx="6"/><text class="t" transform="translate(1187.5 774.5) rotate(-90) scale(.8 1)"><tspan x="0" dy="-6">Complete</tspan><tspan x="0" dy="12">CE Summary</tspan></text></g>
<g id="n-or-acc"><rect class="b" x="116" y="857" width="35" height="65" rx="6"/><text class="t" transform="translate(133.5 889.5) rotate(-90) scale(.8 1)"><tspan x="0" dy="-6">HMIS: Outreach</tspan><tspan x="0" dy="12">accepts referral</tspan></text></g>
<g id="n-or-entry"><ellipse class="e" cx="206" cy="921" rx="32" ry="39"/><text class="t" transform="translate(207 921) rotate(-90) scale(.8 1)"><tspan x="0" dy="-11">Client self-identifies to</tspan><tspan x="0" dy="11">Street Outreach or</tspan><tspan x="0" dy="11">Service Provider</tspan></text></g>
<g id="n-or-triage"><rect class="b" x="268" y="883" width="39" height="77" rx="6"/><rect class="p" x="303" y="883" width="38" height="77" rx="6"/><rect class="c" x="337" y="883" width="39" height="77" rx="6"/><text class="t" transform="translate(286 921.5) rotate(-90) scale(.8 1)"><tspan x="0" dy="-6">HMIS: conduct Triage</tspan><tspan x="0" dy="12">Assessment</tspan></text><text class="t" transform="translate(320 921.5) rotate(-90) scale(.8 1)"><tspan x="0" dy="-6">CEE: Referral to Crisis</tspan><tspan x="0" dy="12">Needs Assmt.</tspan></text><text class="t" transform="translate(357 921.5) rotate(-90) scale(.8 1)"><tspan x="0" dy="-6">CEA: Crisis Needs</tspan><tspan x="0" dy="12">Assmt.</tspan></text></g>
<g id="n-or-cm"><rect class="w" x="420" y="856" width="40" height="77" rx="6"/><rect class="b" x="455" y="856" width="35" height="77" rx="6"/><text class="t" transform="translate(437.5 894.5) rotate(-90) scale(.8 1)"><tspan x="0" dy="-6">Outreach</tspan><tspan x="0" dy="12">case management</tspan></text><text class="t" transform="translate(472.5 894.5) rotate(-90) scale(.8 1)"><tspan x="0" dy="-6">HMIS: Document</tspan><tspan x="0" dy="12">outreach services</tspan></text></g>
<g id="n-or-rrq"><polygon class="d" points="548,856 577,894.5 548,933 519,894.5"/><text class="t" transform="translate(548 894.5) rotate(-90) scale(.8 1)"><tspan x="0" dy="-12">Is client a</tspan><tspan x="0" dy="12">Rapid Resolution</tspan><tspan x="0" dy="12">candidate?</tspan></text></g>
<g id="n-or-rr"><rect class="w" x="614" y="856" width="37" height="77" rx="6"/><rect class="p" x="647" y="856" width="38" height="77" rx="6"/><text class="t" transform="translate(631 894.5) rotate(-90) scale(.8 1)"><tspan x="0" dy="-6">Rapid Resolution</tspan><tspan x="0" dy="12">services</tspan></text><text class="t" transform="translate(666 894.5) rotate(-90) scale(.8 1)"><tspan x="0" dy="-6">CEE: Document Rapid</tspan><tspan x="0" dy="12">Resolution services</tspan></text></g>
<g id="n-or-end"><rect class="r" x="719" y="847" width="88" height="96" rx="40" ry="42"/><rect class="p" x="773" y="856" width="39" height="77" rx="6"/><text class="t" transform="translate(747 894.5) rotate(-90) scale(.8 1)"><tspan x="0" dy="-18">If successful, Exit</tspan><tspan x="0" dy="12">client from Outreach project</tspan><tspan x="0" dy="12">in HMIS as successfully</tspan><tspan x="0" dy="12">housed/re-housed.</tspan></text><text class="t" transform="translate(792.5 894.5) rotate(-90) scale(.8 1)"><tspan x="0" dy="-12">CEE: Document</tspan><tspan x="0" dy="12">Rapid Resolution</tspan><tspan x="0" dy="12">service result</tspan></text></g>
<g id="n-or-ready"><polygon class="d" points="880,856 907,894.5 880,933 853,894.5"/><text class="t" transform="translate(880 894.5) rotate(-90) scale(.8 1)"><tspan x="0" dy="-6">Is client</tspan><tspan x="0" dy="12">shelter ready?</tspan></text></g>
<g id="n-or-es"><rect class="b" x="943" y="856" width="39" height="77" rx="6"/><rect class="p" x="978" y="856" width="42" height="77" rx="6"/><rect class="c" x="1016" y="856" width="36" height="77" rx="6"/><text class="t" transform="translate(961 894.5) rotate(-90) scale(.8 1)"><tspan x="0" dy="-6">HMIS: Referral to</tspan><tspan x="0" dy="12">Emergency Shelter</tspan></text><text class="t" transform="translate(999.5 894.5) rotate(-90) scale(.8 1)"><tspan x="0" dy="-12">CEE: Referral to</tspan><tspan x="0" dy="12">Emergency Shelter</tspan><tspan x="0" dy="12">&amp; location</tspan></text><text class="t" transform="translate(1035 894.5) rotate(-90) scale(.8 1)"><tspan x="0" dy="-6">CEA: Crisis Needs</tspan><tspan x="0" dy="12">Assmt.</tspan></text></g>
<g id="n-or-ce"><rect class="b" x="1108" y="856" width="38" height="77" rx="6"/><rect class="p" x="1141" y="856" width="37" height="77" rx="6"/><rect class="c" x="1175" y="856" width="32" height="77" rx="6"/><text class="t" transform="translate(1125 894.5) rotate(-90) scale(.8 1)"><tspan x="0" dy="-6">Complete CE referral in</tspan><tspan x="0" dy="12">HMIS</tspan></text><text class="t" transform="translate(1159.5 894.5) rotate(-90) scale(.8 1)"><tspan x="0" dy="-6">CEE: Referral to</tspan><tspan x="0" dy="12">Housing Needs Assmt.</tspan></text><text class="t" transform="translate(1191 894.5) rotate(-90) scale(.8 1)"><tspan x="0" dy="-6">CEA: Housing</tspan><tspan x="0" dy="12">Needs Assmt.</tspan></text></g>
<g id="n-or-sum"><rect class="w" x="1230" y="856" width="41" height="77" rx="6"/><text class="t" transform="translate(1250.5 894.5) rotate(-90) scale(.8 1)"><tspan x="0" dy="-6">Complete</tspan><tspan x="0" dy="12">CE Summary</tspan></text></g>
<g id="n-dvc-rrq"><polygon class="d" points="479,976 507,1014.5 479,1053 451,1014.5"/><text class="t" transform="translate(479 1014.5) rotate(-90) scale(.8 1)"><tspan x="0" dy="-12">Is client a</tspan><tspan x="0" dy="12">Rapid Resolution<tspan class="s" baseline-shift="super">11</tspan></tspan><tspan x="0" dy="12">candidate?</tspan></text></g>
<g id="n-dvc-rr"><rect class="w" x="547" y="976" width="39" height="77" rx="6"/><rect class="p" x="582" y="976" width="40" height="77" rx="6"/><text class="t" transform="translate(565 1014.5) rotate(-90) scale(.8 1)"><tspan x="0" dy="-6">Rapid Resolution</tspan><tspan x="0" dy="12">services</tspan></text><text class="t" transform="translate(602 1014.5) rotate(-90) scale(.8 1)"><tspan x="0" dy="-6">CEE: Document Rapid</tspan><tspan x="0" dy="12">Resolution services</tspan></text></g>
<g id="n-dvc-end"><rect class="r" x="706" y="965" width="88" height="98" rx="40" ry="42"/><rect class="p" x="760" y="976" width="39" height="77" rx="6"/><text class="t" transform="translate(737 1014.5) rotate(-90) scale(.8 1)"><tspan x="0" dy="-18">If successful, Exit</tspan><tspan x="0" dy="12">client from Shelter project</tspan><tspan x="0" dy="12">in HMIS as successfully</tspan><tspan x="0" dy="12">housed/re-housed.</tspan></text><text class="t" transform="translate(779.5 1014.5) rotate(-90) scale(.8 1)"><tspan x="0" dy="-12">CEE: Document</tspan><tspan x="0" dy="12">Rapid Resolution</tspan><tspan x="0" dy="12">service result</tspan></text></g>
<g id="n-dvc-will"><polygon class="d" points="950,976 978,1014.5 950,1053 922,1014.5"/><text class="t" transform="translate(950 1014.5) rotate(-90) scale(.8 1)"><tspan x="0" dy="-12">Will homelessness</tspan><tspan x="0" dy="12">resolve with case</tspan><tspan x="0" dy="12">management?</tspan></text></g>
<g id="n-dvc-ce"><rect class="b" x="1030" y="976" width="38" height="77" rx="6"/><rect class="p" x="1063" y="976" width="38" height="77" rx="6"/><rect class="c" x="1097" y="976" width="31" height="77" rx="6"/><text class="t" transform="translate(1047 1014.5) rotate(-90) scale(.8 1)"><tspan x="0" dy="-6">Complete CE referral in</tspan><tspan x="0" dy="12">HMIS</tspan></text><text class="t" transform="translate(1081.5 1014.5) rotate(-90) scale(.8 1)"><tspan x="0" dy="-6">CEE: Referral to</tspan><tspan x="0" dy="12">Housing Needs Assmt.</tspan></text><text class="t" transform="translate(1112.5 1014.5) rotate(-90) scale(.8 1)"><tspan x="0" dy="-6">CEA: Housing</tspan><tspan x="0" dy="12">Needs Assmt.</tspan></text></g>
<g id="n-dvc-sum"><rect class="w" x="1168" y="976" width="40" height="77" rx="6"/><text class="t" transform="translate(1188 1014.5) rotate(-90) scale(.8 1)"><tspan x="0" dy="-6">Complete</tspan><tspan x="0" dy="12">CE Summary<tspan class="s" baseline-shift="super">12</tspan></tspan></text></g>
<g id="n-dv-entry"><ellipse class="e" cx="128" cy="1147" rx="32" ry="40"/><text class="t" transform="translate(129 1147) rotate(-90) scale(.8 1)"><tspan x="0" dy="-11">Client self-identifies to</tspan><tspan x="0" dy="11">DV Hotline or Victim</tspan><tspan x="0" dy="11">Service Provider</tspan></text></g>
<g id="n-dv-intake"><rect class="b" x="190" y="1108" width="49" height="78" rx="6"/><text class="t" transform="translate(214.5 1147) rotate(-90) scale(.8 1)"><tspan x="0" dy="-12">DV intake in com-</tspan><tspan x="0" dy="12">parable DB and HMIS</tspan><tspan x="0" dy="12">(anonymize PII)<tspan class="s" baseline-shift="super">10</tspan></tspan></text></g>
<g id="n-dv-triage"><rect class="b" x="268" y="1108" width="39" height="78" rx="6"/><rect class="p" x="303" y="1108" width="38" height="78" rx="6"/><rect class="c" x="337" y="1108" width="39" height="78" rx="6"/><text class="t" transform="translate(286 1147) rotate(-90) scale(.8 1)"><tspan x="0" dy="-6">HMIS: conduct Triage</tspan><tspan x="0" dy="12">Assessment</tspan></text><text class="t" transform="translate(320 1147) rotate(-90) scale(.8 1)"><tspan x="0" dy="-6">CEE: Referral to Crisis</tspan><tspan x="0" dy="12">Needs Assmt.</tspan></text><text class="t" transform="translate(357 1147) rotate(-90) scale(.8 1)"><tspan x="0" dy="-6">CEA: Crisis Needs</tspan><tspan x="0" dy="12">Assmt.</tspan></text></g>
<g id="n-dv-prevq"><polygon class="d" points="439,1109 467,1147 439,1185 411,1147"/><text class="t" transform="translate(439 1147) rotate(-90) scale(.8 1)"><tspan x="0" dy="-6">Is client a candidate for</tspan><tspan x="0" dy="12">Prevention Assist.?</tspan></text></g>
<g id="n-dv-prev"><rect class="b" x="509" y="1108" width="38" height="78" rx="6"/><rect class="p" x="543" y="1108" width="30" height="78" rx="6"/><text class="t" transform="translate(526 1147) rotate(-90) scale(.8 1)"><tspan x="0" dy="-6">HMIS: Referral to</tspan><tspan x="0" dy="12">Prevention project</tspan></text><text class="t" transform="translate(558 1147) rotate(-90) scale(.8 1)"><tspan x="0" dy="-6">CEE: Referral to</tspan><tspan x="0" dy="12">Prevention project</tspan></text></g>
<g id="n-dv-shref"><rect class="b" x="587" y="1108" width="40" height="78" rx="6"/><rect class="p" x="622" y="1108" width="44" height="78" rx="6"/><text class="t" transform="translate(604.5 1147) rotate(-90) scale(.8 1)"><tspan x="0" dy="-6">HMIS: Referral to DV</tspan><tspan x="0" dy="12">Shelter</tspan></text><text class="t" transform="translate(644 1147) rotate(-90) scale(.8 1)"><tspan x="0" dy="-12">CEE: Referral to</tspan><tspan x="0" dy="12">Emergency Shelter</tspan><tspan x="0" dy="12">&amp; location</tspan></text></g>
<g id="n-dv-shentry"><rect class="b" x="701" y="1108" width="40" height="78" rx="6"/><rect class="p" x="737" y="1108" width="47" height="78" rx="6"/><text class="t" transform="translate(719 1147) rotate(-90) scale(.8 1)"><tspan x="0" dy="-6">HMIS: DV shelter</tspan><tspan x="0" dy="12">project entry</tspan></text><text class="t" transform="translate(760.5 1147) rotate(-90) scale(.8 1)"><tspan x="0" dy="-12">CEE: Emergency</tspan><tspan x="0" dy="12">Shelter documents</tspan><tspan x="0" dy="12">referral date &amp; result</tspan></text></g>
<g id="n-dv-cm"><rect class="w" x="819" y="1108" width="47" height="78" rx="6"/><rect class="b" x="861" y="1108" width="37" height="78" rx="6"/><text class="t" transform="translate(840 1147) rotate(-90) scale(.8 1)"><tspan x="0" dy="-6">DV case</tspan><tspan x="0" dy="12">management</tspan></text><text class="t" transform="translate(879.5 1147) rotate(-90) scale(.8 1)"><tspan x="0" dy="-6">HMIS: Document</tspan><tspan x="0" dy="12">outreach services</tspan></text></g>
<g id="n-hsp-q"><polygon class="d" points="715.5,1214 744,1253 715.5,1292 687,1253"/><text class="t" transform="translate(715.5 1253) rotate(-90) scale(.8 1)"><tspan x="0" dy="-18">Is client</tspan><tspan x="0" dy="12">a post-placement/follow</tspan><tspan x="0" dy="12">up case management</tspan><tspan x="0" dy="12">candidate<tspan class="s" baseline-shift="super">8</tspan>?</tspan></text></g>
<g id="n-hsp-ref"><rect class="b" x="777" y="1214" width="65" height="78" rx="6"/><rect class="p" x="837" y="1214" width="68" height="78" rx="6"/><text class="t" transform="translate(806 1253) rotate(-90) scale(.8 1)"><tspan x="0" dy="-18">HMIS: Referral to post</tspan><tspan x="0" dy="12">placement/follow up</tspan><tspan x="0" dy="12">case management</tspan><tspan x="0" dy="12">services</tspan></text><text class="t" transform="translate(871 1253) rotate(-90) scale(.8 1)"><tspan x="0" dy="-24">CEE: Document</tspan><tspan x="0" dy="12">post placement/follow</tspan><tspan x="0" dy="12">up case</tspan><tspan x="0" dy="12">management referral</tspan><tspan x="0" dy="12">and referral result</tspan></text></g>
<g id="n-hsp-svc"><rect class="w" x="931" y="1214" width="55" height="78" rx="6"/><rect class="b" x="981" y="1214" width="69" height="78" rx="6"/><text class="t" transform="translate(956 1253) rotate(-90) scale(.8 1)"><tspan x="0" dy="-12">Post placement/</tspan><tspan x="0" dy="12">follow up case</tspan><tspan x="0" dy="12">management services</tspan></text><text class="t" transform="translate(1014.5 1253) rotate(-90) scale(.8 1)"><tspan x="0" dy="-18">HMIS: Document post</tspan><tspan x="0" dy="12">placement/follow</tspan><tspan x="0" dy="12">up case</tspan><tspan x="0" dy="12">management services</tspan></text></g>
<g id="n-hsp-end"><rect class="r" x="1076" y="1205" width="98" height="98" rx="44" ry="44"/><text class="t" transform="translate(1125 1254) rotate(-90) scale(.8 1)"><tspan x="0" dy="-30">If successful, Exit</tspan><tspan x="0" dy="12">client from post</tspan><tspan x="0" dy="12">placement/follow up case</tspan><tspan x="0" dy="12">management project</tspan><tspan x="0" dy="12">in HMIS as successfully</tspan><tspan x="0" dy="12">housed/re-housed.</tspan></text></g>
<g id="n-hp-enter"><rect class="b" x="310" y="1335" width="54" height="77" rx="6"/><text class="t" transform="translate(337.5 1373.5) rotate(-90) scale(.8 1)"><tspan x="0" dy="-12">HMIS: Enter client into</tspan><tspan x="0" dy="12">Prevention project.</tspan><tspan x="0" dy="12">Leave end date open.</tspan></text></g>
<g id="n-hp-svc"><rect class="w" x="392" y="1335" width="41" height="77" rx="6"/><rect class="b" x="428" y="1335" width="37" height="77" rx="6"/><text class="t" transform="translate(410 1373.5) rotate(-90) scale(.8 1)"><tspan x="0" dy="-6">Prevention Assistance</tspan><tspan x="0" dy="12">services</tspan></text><text class="t" transform="translate(446.5 1373.5) rotate(-90) scale(.8 1)"><tspan x="0" dy="-6">HMIS: Document</tspan><tspan x="0" dy="12">Prevention services</tspan></text></g>
<g id="n-hp-end"><rect class="r" x="496" y="1323" width="63" height="99" rx="30" ry="32"/><text class="t" transform="translate(529 1372.5) rotate(-90) scale(.8 1)"><tspan x="0" dy="-18">If successful, Exit client</tspan><tspan x="0" dy="12">from Prevention project in</tspan><tspan x="0" dy="12">HMIS as successfully housed/</tspan><tspan x="0" dy="12">re-housed.</tspan></text></g>
<g id="n-hl-entry"><ellipse class="e" cx="128" cy="1492" rx="32" ry="39"/><text class="t" transform="translate(129 1492) rotate(-90) scale(.8 1)"><tspan x="0" dy="-6">Client calls Homeless</tspan><tspan x="0" dy="12">Hotline</tspan></text></g>
<g id="n-hl-dv"><polygon class="d" points="213,1453 241,1492 213,1531 185,1492"/><text class="t" transform="translate(213 1492) rotate(-90) scale(.8 1)"><tspan x="0" dy="-6">Is client actively</tspan><tspan x="0" dy="12">fleeing DV?</tspan></text></g>
<g id="n-hl-triage"><rect class="b" x="272" y="1453" width="37" height="78" rx="6"/><rect class="p" x="304" y="1453" width="41" height="78" rx="6"/><rect class="c" x="340" y="1453" width="39" height="78" rx="6"/><text class="t" transform="translate(289 1492) rotate(-90) scale(.8 1)"><tspan x="0" dy="-6">HMIS: conduct Triage</tspan><tspan x="0" dy="12">Assessment<tspan class="s" baseline-shift="super">2</tspan></tspan></text><text class="t" transform="translate(324 1492) rotate(-90) scale(.8 1)"><tspan x="0" dy="-6">CEE: Referral to Crisis</tspan><tspan x="0" dy="12">Needs Assmt.<tspan class="s" baseline-shift="super">3</tspan></tspan></text><text class="t" transform="translate(359.5 1492) rotate(-90) scale(.8 1)"><tspan x="0" dy="-6">CEA: Crisis Needs</tspan><tspan x="0" dy="12">Assmt.<tspan class="s" baseline-shift="super">4</tspan></tspan></text></g>
<g id="n-hl-prevq"><polygon class="d" points="428,1453 456,1492 428,1531 400,1492"/><text class="t" transform="translate(428 1492) rotate(-90) scale(.8 1)"><tspan x="0" dy="-6">Is client a candidate for</tspan><tspan x="0" dy="12">Prevention Assist<tspan class="s" baseline-shift="super">5</tspan>?</tspan></text></g>
<g id="n-hl-prev"><rect class="b" x="489" y="1453" width="41" height="78" rx="6"/><rect class="p" x="525" y="1453" width="43" height="78" rx="6"/><text class="t" transform="translate(508 1492) rotate(-90) scale(.8 1)"><tspan x="0" dy="-6">HMIS: Referral to</tspan><tspan x="0" dy="12">Prevention project</tspan></text><text class="t" transform="translate(546.5 1492) rotate(-90) scale(.8 1)"><tspan x="0" dy="-6">CEE: Referral to</tspan><tspan x="0" dy="12">Prevention project</tspan></text></g>
<g id="n-hl-lit"><polygon class="d" points="635,1453 663,1492 635,1531 607,1492"/><text class="t" transform="translate(635 1492) rotate(-90) scale(.8 1)"><tspan x="0" dy="-6">Is client literally</tspan><tspan x="0" dy="12">homeless<tspan class="s" baseline-shift="super">6</tspan>?</tspan></text></g>
<g id="n-hl-divq"><polygon class="d" points="723.5,1453 751,1492 723.5,1531 696,1492"/><text class="t" transform="translate(723.5 1492) rotate(-90) scale(.8 1)"><tspan x="0" dy="-6">Is client a candidate for</tspan><tspan x="0" dy="12">Diversion<tspan class="s" baseline-shift="super">7</tspan>?</tspan></text></g>
<g id="n-hl-div"><rect class="w" x="782" y="1453" width="29" height="78" rx="6"/><rect class="b" x="806" y="1453" width="39" height="78" rx="6"/><rect class="p" x="841" y="1453" width="47" height="78" rx="6"/><text class="t" transform="translate(796.5 1492) rotate(-90) scale(.8 1)">Diversion services</text><text class="t" transform="translate(825.5 1492) rotate(-90) scale(.8 1)"><tspan x="0" dy="-6">HMIS: Document</tspan><tspan x="0" dy="12">Diversion services</tspan></text><text class="t" transform="translate(864.5 1492) rotate(-90) scale(.8 1)"><tspan x="0" dy="-12">CEE: Document</tspan><tspan x="0" dy="12">Access to Diversion</tspan><tspan x="0" dy="12">service</tspan></text></g>
<g id="n-hl-divend"><rect class="r" x="909" y="1443" width="80" height="99" rx="38" ry="42"/><rect class="p" x="954" y="1453" width="39" height="78" rx="6"/><text class="t" transform="translate(933 1492) rotate(-90) scale(.8 1)"><tspan x="0" dy="-12">If successful, identify</tspan><tspan x="0" dy="12">that client was successfully</tspan><tspan x="0" dy="12">housed/re-housed</tspan></text><text class="t" transform="translate(973.5 1492) rotate(-90) scale(.8 1)"><tspan x="0" dy="-12">CEE: Document</tspan><tspan x="0" dy="12">Diversion</tspan><tspan x="0" dy="12">service result</tspan></text></g>
<g id="n-hl-noncont"><rect class="r" x="1001" y="1443" width="66" height="99" rx="32" ry="40"/><rect class="p" x="1035" y="1453" width="49" height="78" rx="6"/><text class="t" transform="translate(1018 1492) rotate(-90) scale(.8 1)"><tspan x="0" dy="-6">Refer to non-</tspan><tspan x="0" dy="12">continuum services</tspan></text><text class="t" transform="translate(1059.5 1492) rotate(-90) scale(.8 1)"><tspan x="0" dy="-12">CEE: Referral to Non-</tspan><tspan x="0" dy="12">continuum services:</tspan><tspan x="0" dy="12">Ineligible</tspan></text></g>
<g id="n-hl-space"><polygon class="d" points="1147,1463 1175,1500 1147,1538 1119,1500"/><text class="t" transform="translate(1147 1500) rotate(-90) scale(.8 1)"><tspan x="0" dy="-6">Is shelter space</tspan><tspan x="0" dy="12">available?</tspan></text></g>
<g id="n-hl-es"><rect class="b" x="1207" y="1461" width="40" height="77" rx="6"/><rect class="p" x="1242" y="1461" width="44" height="77" rx="6"/><text class="t" transform="translate(1225 1499.5) rotate(-90) scale(.8 1)"><tspan x="0" dy="-6">HMIS: Referral to</tspan><tspan x="0" dy="12">Emergency Shelter</tspan></text><text class="t" transform="translate(1264 1499.5) rotate(-90) scale(.8 1)"><tspan x="0" dy="-12">CEE: Referral to</tspan><tspan x="0" dy="12">Emergency Shelter</tspan><tspan x="0" dy="12">&amp; location</tspan></text></g>
<g id="n-hl-so"><rect class="b" x="1305" y="1461" width="40" height="77" rx="6"/><rect class="p" x="1340" y="1461" width="33" height="77" rx="6"/><text class="t" transform="translate(1323 1499.5) rotate(-90) scale(.8 1)"><tspan x="0" dy="-6">HMIS: Referral to</tspan><tspan x="0" dy="12">Street Outreach</tspan></text><text class="t" transform="translate(1357 1499.5) rotate(-90) scale(.8 1)"><tspan x="0" dy="-6">CEE: Referral to</tspan><tspan x="0" dy="12">Street Outreach</tspan></text></g>
<g id="edge-labels">
<text class="l" transform="translate(225 14) rotate(-90) scale(.85 1)">Yes</text><text class="l" transform="translate(255 57.5) rotate(-90) scale(.85 1)">No</text>
<text class="l" transform="translate(699 57.5) rotate(-90) scale(.85 1)">Yes</text><text class="l" transform="translate(667 97) rotate(-90) scale(.85 1)">No</text>
<text class="l" transform="translate(225 133) rotate(-90) scale(.85 1)">Yes</text><text class="l" transform="translate(255 177.5) rotate(-90) scale(.85 1)">No</text>
<text class="l" transform="translate(855 133) rotate(-90) scale(.85 1)">No</text><text class="l" transform="translate(885 177.5) rotate(-90) scale(.85 1)">Yes</text>
<text class="l" transform="translate(225 253) rotate(-90) scale(.85 1)">Yes</text><text class="l" transform="translate(255 296.5) rotate(-90) scale(.85 1)">No</text>
<text class="l" transform="translate(855 252) rotate(-90) scale(.85 1)">No</text><text class="l" transform="translate(885 296.5) rotate(-90) scale(.85 1)">Yes</text>
<text class="l" transform="translate(225 373) rotate(-90) scale(.85 1)">Yes</text><text class="l" transform="translate(255 416.5) rotate(-90) scale(.85 1)">No</text>
<text class="l" transform="translate(757 372) rotate(-90) scale(.85 1)">No</text><text class="l" transform="translate(789 416.5) rotate(-90) scale(.85 1)">Yes</text>
<text class="l" transform="translate(1109 416.5) rotate(-90) scale(.85 1)">No</text><text class="l" transform="translate(1080 458) rotate(-90) scale(.85 1)">Maybe</text>
<text class="l" transform="translate(224 493) rotate(-90) scale(.85 1)">Yes</text><text class="l" transform="translate(255 539.5) rotate(-90) scale(.85 1)">No</text>
<text class="l" transform="translate(481 731) rotate(-90) scale(.85 1)">No</text><text class="l" transform="translate(514 774.5) rotate(-90) scale(.85 1)">Yes</text>
<text class="l" transform="translate(982 774.5) rotate(-90) scale(.85 1)">No</text><text class="l" transform="translate(952 819) rotate(-90) scale(.85 1)">Maybe</text>
<text class="l" transform="translate(584 894.5) rotate(-90) scale(.85 1)">Yes</text><text class="l" transform="translate(550 938) rotate(-90) scale(.85 1)">No</text>
<text class="l" transform="translate(913 894.5) rotate(-90) scale(.85 1)">Yes</text><text class="l" transform="translate(882 938) rotate(-90) scale(.85 1)">No</text>
<text class="l" transform="translate(514 1014.5) rotate(-90) scale(.85 1)">Yes</text><text class="l" transform="translate(478 1058) rotate(-90) scale(.85 1)">No</text>
<text class="l" transform="translate(982 1014.5) rotate(-90) scale(.85 1)">No</text><text class="l" transform="translate(952 1057) rotate(-90) scale(.85 1)">Maybe</text>
<text class="l" transform="translate(442 1103) rotate(-90) scale(.85 1)">No</text><text class="l" transform="translate(477 1147) rotate(-90) scale(.85 1)">Yes</text>
<text class="l" transform="translate(750 1253) rotate(-90) scale(.85 1)">Yes</text>
<text class="l" transform="translate(215 1446) rotate(-90) scale(.85 1)">Yes</text><text class="l" transform="translate(245 1492) rotate(-90) scale(.85 1)">No</text>
<text class="l" transform="translate(460 1492) rotate(-90) scale(.85 1)">Yes</text><text class="l" transform="translate(430 1538) rotate(-90) scale(.85 1)">No</text>
<text class="l" transform="translate(668 1492) rotate(-90) scale(.85 1)">Yes</text><text class="l" transform="translate(637 1538) rotate(-90) scale(.85 1)">No</text>
<text class="l" transform="translate(757 1492) rotate(-90) scale(.85 1)">Yes</text><text class="l" transform="translate(726 1447) rotate(-90) scale(.85 1)">No</text>
<text class="l" transform="translate(1149 1457) rotate(-90) scale(.85 1)">No</text><text class="l" transform="translate(1180 1500) rotate(-90) scale(.85 1)">Yes</text>
</g>
</svg>
